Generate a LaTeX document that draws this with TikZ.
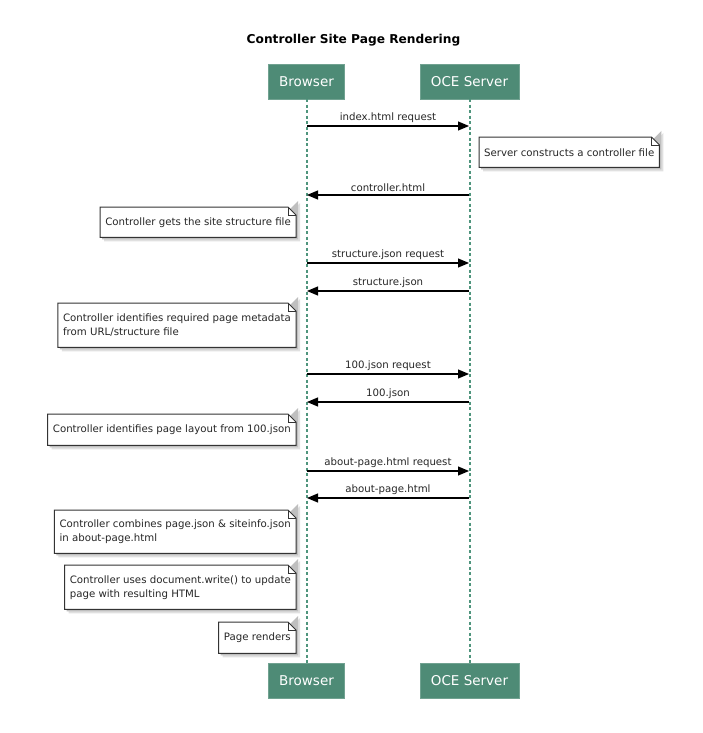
\documentclass[tikz,border=0pt]{standalone}
\usepackage{fontspec}
\setmainfont{DejaVu Sans}
\usetikzlibrary{arrows.meta,backgrounds,calc}
\definecolor{boxgreen}{HTML}{4E8B76}
\definecolor{lifegreen}{HTML}{4F957D}
\definecolor{notedraw}{HTML}{333333}
\newcommand\mknote[1]{%
  \begin{pgfonlayer}{background}
    \fill[black!12] ([shift={(4,4)}]#1.north west) -- ([shift={(-4,4)}]#1.north east) -- ([shift={(4,-4)}]#1.north east) -- ([shift={(4,4)}]#1.south east) -- ([shift={(4,4)}]#1.south west) -- cycle;
    \fill[black!25] ([shift={(2,2)}]#1.north west) -- ([shift={(-6,2)}]#1.north east) -- ([shift={(2,-6)}]#1.north east) -- ([shift={(2,2)}]#1.south east) -- ([shift={(2,2)}]#1.south west) -- cycle;
    \filldraw[fill=white,draw=notedraw,line width=1pt] (#1.north west) -- ([xshift=-8pt]#1.north east) -- ([yshift=-8pt]#1.north east) -- (#1.south east) -- (#1.south west) -- cycle;
    \draw[draw=notedraw,line width=0.8pt] ([xshift=-8pt]#1.north east) -- ([xshift=-8pt,yshift=-8pt]#1.north east) -- ([yshift=-8pt]#1.north east);
  \end{pgfonlayer}}
\begin{document}
\begin{tikzpicture}[x=1pt,y=-1pt,
  actor/.style={fill=boxgreen,draw=boxgreen!80!white,text=white,font=\fontsize{13.5}{16}\selectfont,minimum height=35pt,inner sep=0pt},
  lifeline/.style={draw=lifegreen,line width=2pt,dash pattern=on 3pt off 2.5pt},
  msg/.style={draw=black,line width=1.1pt,-{Triangle[length=11pt,width=9pt]}},
  msglabel/.style={midway,above,inner sep=0pt,yshift=3pt,font=\fontsize{10.2}{14}\selectfont,text=black!85},
  notetext/.style={font=\fontsize{10.2}{14}\selectfont,text=black!85,align=left,inner xsep=5pt,inner ysep=0pt}]
\begin{pgfonlayer}{background}
\fill[white] (0,0) rectangle (702,733);
\end{pgfonlayer}
\useasboundingbox (0,0) rectangle (702,733);
\node[font=\bfseries\fontsize{12.2}{15}\selectfont] (title) at (353.5,40) {Controller Site Page Rendering};
\node[actor,minimum width=76pt] (bt) at (306.5,81.5) {Browser};
\node[actor,minimum width=99pt] (st) at (469.5,81.5) {OCE Server};
\node[actor,minimum width=76pt] (bb) at (306.5,680.5) {Browser};
\node[actor,minimum width=99pt] (sb) at (469.5,680.5) {OCE Server};
\draw[lifeline] (bt.south) -- (bb.north);
\draw[lifeline] (st.south) -- (sb.north);
% message end points on lifelines
\foreach \n/\y in {1/126,2/195,3/263,4/291,5/374,6/402,7/471,8/498}{
  \coordinate (b\n) at (307,\y);
  \coordinate (s\n) at (469,\y);
}
\draw[msg] (b1) -- (s1) node[msglabel] {index.html request};
\draw[msg] (s2) -- (b2) node[msglabel] {controller.html};
\draw[msg] (b3) -- (s3) node[msglabel] {structure.json request};
\draw[msg] (s4) -- (b4) node[msglabel] {structure.json};
\draw[msg] (b5) -- (s5) node[msglabel] {100.json request};
\draw[msg] (s6) -- (b6) node[msglabel] {100.json};
\draw[msg] (b7) -- (s7) node[msglabel] {about-page.html request};
\draw[msg] (s8) -- (b8) node[msglabel] {about-page.html};
% notes
\node[notetext,anchor=north west,minimum height=30pt] (n1) at (479,137) {Server constructs a controller file};
\mknote{n1}
\node[notetext,anchor=north east,minimum height=30pt] (n2) at (296,207) {Controller gets the site structure file};
\mknote{n2}
\node[notetext,anchor=north east,minimum height=44pt] (n3) at (296,303) {Controller identifies required page metadata\\from URL/structure file};
\mknote{n3}
\node[notetext,anchor=north east,minimum height=31pt] (n4) at (296,414) {Controller identifies page layout from 100.json};
\mknote{n4}
\node[notetext,anchor=north east,minimum height=43pt] (n5) at (296,510) {Controller combines page.json \& siteinfo.json\\in about-page.html};
\mknote{n5}
\node[notetext,anchor=north east,minimum height=44pt] (n6) at (296,565) {Controller uses document.write() to update\\page with resulting HTML};
\mknote{n6}
\node[notetext,anchor=north east,minimum height=31pt] (n7) at (296,622) {Page renders};
\mknote{n7}
\end{tikzpicture}
\end{document}
